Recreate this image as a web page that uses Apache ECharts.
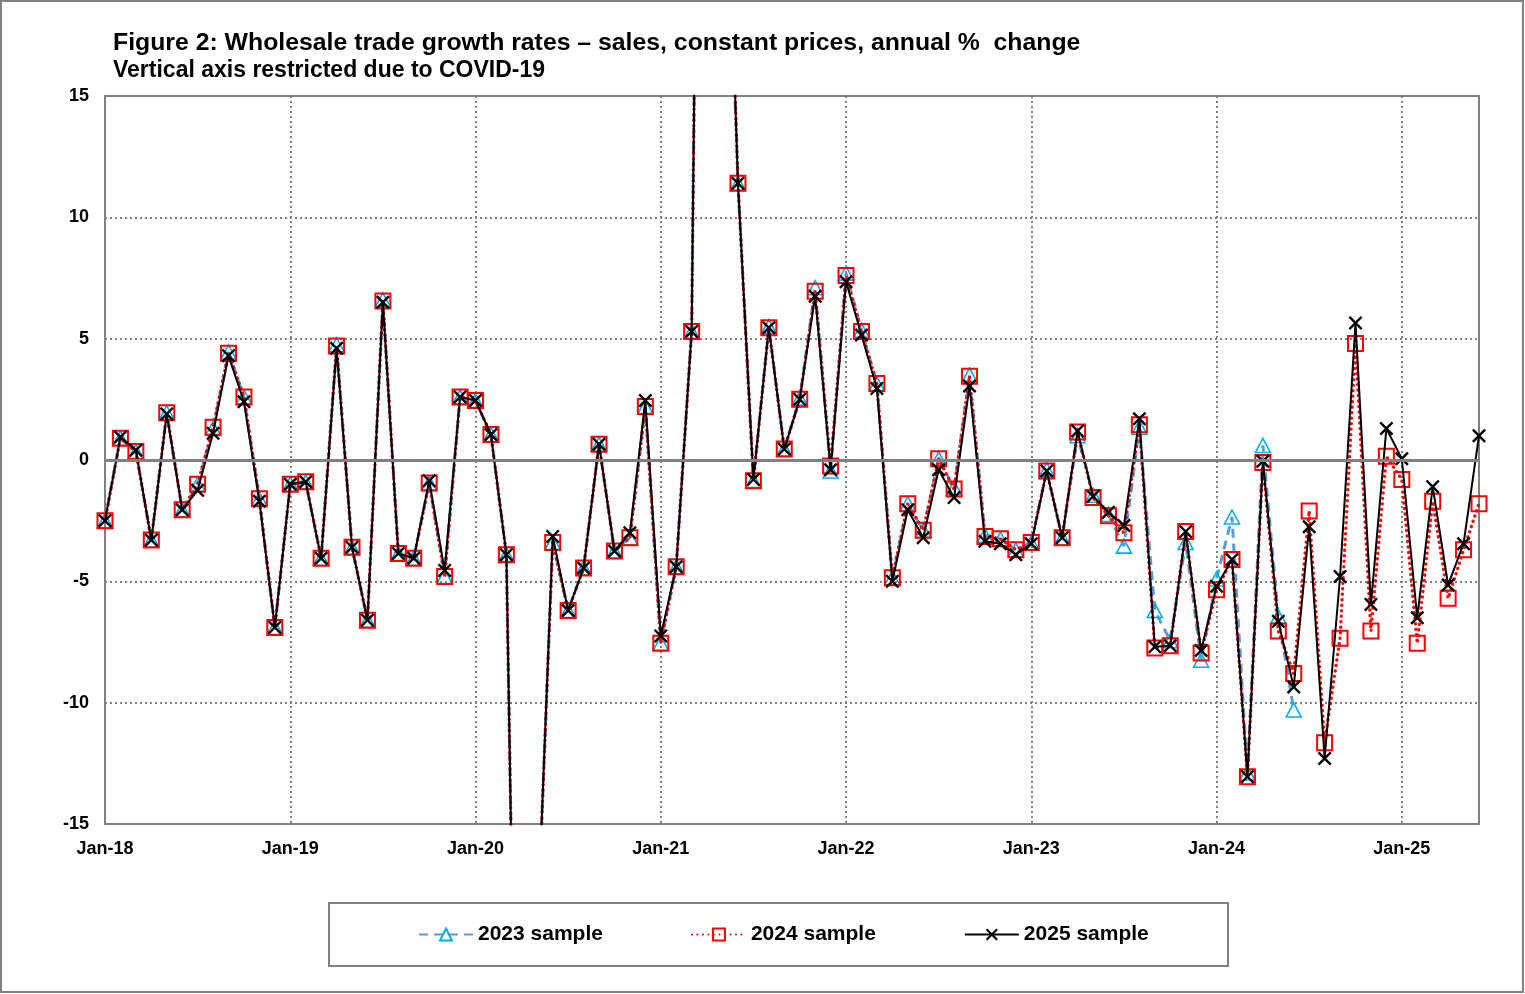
<!DOCTYPE html>
<html>
<head>
<meta charset="utf-8">
<script src="https://cdn.jsdelivr.net/npm/echarts@6/dist/echarts.min.js"></script>
<style>
html,body{margin:0;padding:0;background:#fff;}
#chart{width:1525px;height:994px;}
</style>
</head>
<body>
<div id="chart"></div>
<script>
// Months Jan-18 .. Jun-25
const years = ['18','19','20','21','22','23','24','25'];
const monthNames = ['Jan','Feb','Mar','Apr','May','Jun','Jul','Aug','Sep','Oct','Nov','Dec'];
const categories = [];
years.forEach(y => monthNames.forEach(m => categories.push(m + '-' + y)));
categories.length = 90;

const sample2023 = [
  -2.5, 0.9, 0.35, -3.3, 1.95, -2.05, -1.0, 1.3, 4.45, 2.6, -1.6, -6.9,
  -1.0, -0.9, -4.05, 4.75, -3.6, -6.6, 6.6, -3.85, -4.05, -0.95, -4.8, 2.6,
  2.45, 1.05, -3.9, -42, -19.6, -3.4, -6.2, -4.45, 0.65, -3.75, -3.2, 2.2,
  -7.55, -4.4, 5.3, 65, 31, 11.4, -0.85, 5.5, 0.45, 2.55, 7.1, -0.45,
  7.7, 5.35, 3.15, -4.85, -1.8, -2.9, 0.05, -1.15, 3.5, -3.1, -3.25, -3.7,
  -3.4, -0.4, -3.2, 1.0, -1.45, -2.25, -3.55, 1.35, -6.2, -7.45, -3.4, -8.25,
  -4.9, -2.35, -12.9, 0.6, -6.45, -10.3
];
const sample2024 = [
  -2.5, 0.9, 0.35, -3.3, 1.95, -2.05, -1.0, 1.35, 4.4, 2.6, -1.6, -6.9,
  -1.0, -0.9, -4.05, 4.7, -3.6, -6.6, 6.55, -3.85, -4.05, -0.95, -4.8, 2.6,
  2.45, 1.05, -3.9, -42, -19.6, -3.4, -6.2, -4.45, 0.65, -3.75, -3.2, 2.2,
  -7.55, -4.4, 5.3, 65, 31, 11.4, -0.85, 5.45, 0.45, 2.5, 6.95, -0.25,
  7.6, 5.3, 3.15, -4.85, -1.8, -2.9, 0.05, -1.2, 3.45, -3.15, -3.25, -3.7,
  -3.4, -0.45, -3.2, 1.15, -1.55, -2.3, -3.0, 1.45, -7.75, -7.65, -2.95, -7.95,
  -5.35, -4.1, -13.05, -0.1, -7.05, -8.8, -2.1, -11.65, -7.35, 4.8, -7.05, 0.15,
  -0.8, -7.55, -1.7, -5.7, -3.7, -1.8
];
const sample2025 = [
  -2.5, 0.95, 0.4, -3.3, 1.9, -2.05, -1.25, 1.1, 4.3, 2.4, -1.7, -6.9,
  -1.0, -0.9, -4.05, 4.6, -3.6, -6.6, 6.5, -3.85, -4.05, -0.85, -4.55, 2.6,
  2.45, 1.05, -3.9, -42, -19.6, -3.15, -6.2, -4.45, 0.65, -3.75, -3.0, 2.45,
  -7.25, -4.4, 5.3, 65, 31, 11.4, -0.8, 5.45, 0.45, 2.5, 6.75, -0.4,
  7.35, 5.15, 2.95, -5.0, -2.05, -3.2, -0.4, -1.55, 3.05, -3.35, -3.45, -3.9,
  -3.45, -0.45, -3.2, 1.2, -1.5, -2.15, -2.7, 1.7, -7.7, -7.65, -2.95, -7.85,
  -5.2, -4.1, -13.05, -0.05, -6.65, -9.35, -2.75, -12.3, -4.8, 5.65, -5.95, 1.3,
  0.05, -6.5, -1.1, -5.15, -3.45, 1.0
];
const yTicks = [-15, -10, -5, 0, 5, 10, 15];

const FONT = 'Liberation Sans, Arial, sans-serif';
const GRAY = '#808080';
const xPath = 'path://M0,1.2L1.2,0L5,3.8L8.8,0L10,1.2L6.2,5L10,8.8L8.8,10L5,6.2L1.2,10L0,8.8L3.8,5Z';

const chart = echarts.init(document.getElementById('chart'), null, {renderer: 'canvas'});
chart.setOption({
  animation: false,
  backgroundColor: '#fff',
  textStyle: {fontFamily: FONT},
  title: {
    left: 113, top: 31, padding: 0,
    text: 'Figure 2: Wholesale trade growth rates \u2013 sales, constant prices, annual %  change',
    subtext: 'Vertical axis restricted due to COVID-19',
    itemGap: 3,
    textStyle: {fontFamily: FONT, fontSize: 24.8, fontWeight: 'bold', color: '#000'},
    subtextStyle: {fontFamily: FONT, fontSize: 23, fontWeight: 'bold', color: '#000'}
  },
  graphic: [
    {type: 'rect', shape: {x: 1, y: 1, width: 1522, height: 991}, style: {fill: 'none', stroke: GRAY, lineWidth: 2}, silent: true, z: -10},
    {type: 'rect', shape: {x: 329, y: 903, width: 899, height: 63}, style: {fill: '#fff', stroke: GRAY, lineWidth: 2}, silent: true, z: -5}
  ],
  legend: {
    left: 418, top: 924,
    itemGap: 88,
    itemWidth: 54, itemHeight: 15,
    padding: 0,
    textStyle: {fontFamily: FONT, fontSize: 21, fontWeight: 'bold', color: '#000'},
    data: ['2023 sample', '2024 sample', '2025 sample']
  },
  grid: {left: 105, right: 46, top: 96, bottom: 170, show: true, borderColor: GRAY, borderWidth: 2, containLabel: false},
  xAxis: {
    type: 'category',
    data: categories,
    boundaryGap: false,
    axisLine: {show: true, onZero: false, lineStyle: {color: GRAY, width: 2}},
    axisTick: {show: false},
    axisLabel: {
      interval: (i) => i % 12 === 0,
      margin: 16,
      fontFamily: FONT, fontSize: 18, fontWeight: 'bold', color: '#000'
    },
    splitLine: {show: true, interval: (i) => i % 12 === 0, lineStyle: {color: GRAY, width: 2, type: [2, 3]}}
  },
  yAxis: {
    type: 'value',
    min: yTicks[0], max: yTicks[yTicks.length - 1], interval: 5,
    axisLine: {show: true, lineStyle: {color: GRAY, width: 2}},
    axisTick: {show: false},
    axisLabel: {margin: 16, fontFamily: FONT, fontSize: 18, fontWeight: 'bold', color: '#000'},
    splitLine: {show: true, lineStyle: {color: GRAY, width: 2, type: [2, 3]}}
  },
  series: [
    {
      name: '2023 sample', type: 'line', data: sample2023, clip: true,
      symbol: 'triangle', symbolSize: [15, 14], showAllSymbol: true,
      itemStyle: {color: 'rgba(255,255,255,0)', borderColor: '#00B0F0', borderWidth: 1.6},
      lineStyle: {color: '#5B9BD5', width: 3, type: [9, 6]},
      markLine: {
        silent: true, symbol: 'none', label: {show: false},
        lineStyle: {color: GRAY, width: 3, type: 'solid'},
        data: [{yAxis: 0}]
      },
      z: 2
    },
    {
      name: '2024 sample', type: 'line', data: sample2024, clip: true,
      symbol: 'rect', symbolSize: 15, showAllSymbol: true,
      itemStyle: {color: 'rgba(255,255,255,0)', borderColor: '#FF0000', borderWidth: 2},
      lineStyle: {color: '#FF0000', width: 3.4, type: [0.01, 5.5], cap: 'round'},
      z: 3
    },
    {
      name: '2025 sample', type: 'line', data: sample2025, clip: true,
      symbol: xPath, symbolSize: 14, showAllSymbol: true,
      itemStyle: {color: '#000', borderWidth: 0},
      lineStyle: {color: '#000', width: 2},
      z: 4
    }
  ]
});
</script>
</body>
</html>
